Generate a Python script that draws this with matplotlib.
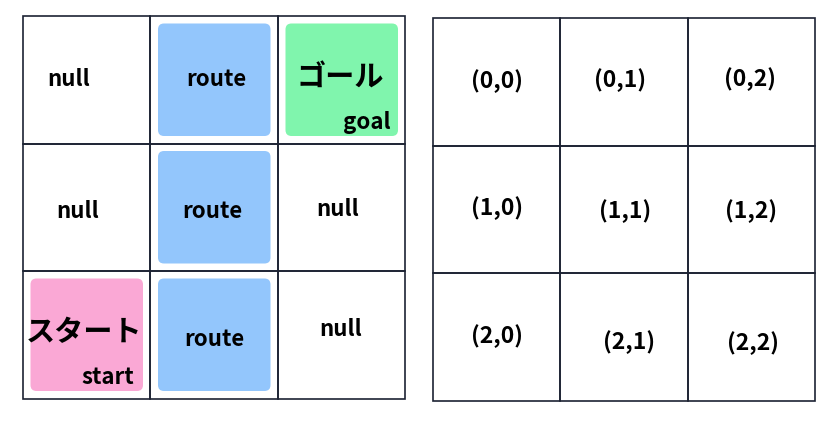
import matplotlib
matplotlib.use('Agg')
from matplotlib import pyplot as plt
from matplotlib.patches import FancyBboxPatch, Rectangle

plt.rcParams['font.family'] = ['Noto Sans CJK JP', 'DejaVu Sans']

# left grid cell labels (row, col) -> text
left_labels = [['null', 'route', 'ゴール'],
               ['null', 'route', 'null'],
               ['スタート', 'route', 'null']]
left_sub = {(0, 2): 'goal', (2, 0): 'start'}
left_fill = {(0, 1): '#93C6FC', (1, 1): '#93C6FC', (2, 1): '#93C6FC',
             (0, 2): '#80F5AD', (2, 0): '#FAA8D5'}
# small offsets of label centres as seen in the picture (px)
left_pos = [[(69, 79), (216, 79), (340, 78)],
            [(78, 211), (212, 211), (338, 209)],
            [(84, 332), (214, 340), (341, 330)]]
sub_pos = {(0, 2): (367, 122), (2, 0): (108, 377)}
right_pos = [[(497, 81), (620, 80), (750, 79)],
             [(497, 208), (625, 211), (751, 211)],
             [(497, 336), (629, 342), (753, 343)]]

fig = plt.figure(figsize=(8.34, 4.29), dpi=100)
ax = fig.add_axes([0, 0, 1, 1])
ax.set_xlim(0, 834)
ax.set_ylim(429, 0)
ax.axis('off')

cell = 127.5
lx, ly = 23, 16
rx, ry = 433, 18
ins = 7.5
for r in range(3):
    for c in range(3):
        x0 = lx + c * cell
        y0 = ly + r * cell
        ax.add_patch(Rectangle((x0, y0), cell, cell, fill=False, ec='#1c2233', lw=1.2))
        if (r, c) in left_fill:
            ax.add_patch(FancyBboxPatch((x0 + ins, y0 + ins), cell - 2 * ins, cell - 2 * ins,
                                        boxstyle='round,pad=0,rounding_size=6',
                                        fc=left_fill[(r, c)], ec='none'))
        t = left_labels[r][c]
        fs = 21 if not t.isascii() else 16
        ax.text(*left_pos[r][c], t, ha='center', va='center', fontsize=fs,
                fontweight='bold')
        if (r, c) in left_sub:
            ax.text(*sub_pos[(r, c)], left_sub[(r, c)], ha='center', va='center',
                    fontsize=16, fontweight='bold')
        x1 = rx + c * cell
        y1 = ry + r * cell
        ax.add_patch(Rectangle((x1, y1), cell, cell, fill=False, ec='#1c2233', lw=1.2))
        ax.text(*right_pos[r][c], '(%d,%d)' % (r, c), ha='center', va='center',
                fontsize=16.5, fontweight='bold')

fig.savefig('out.png', dpi=100, facecolor='white')
